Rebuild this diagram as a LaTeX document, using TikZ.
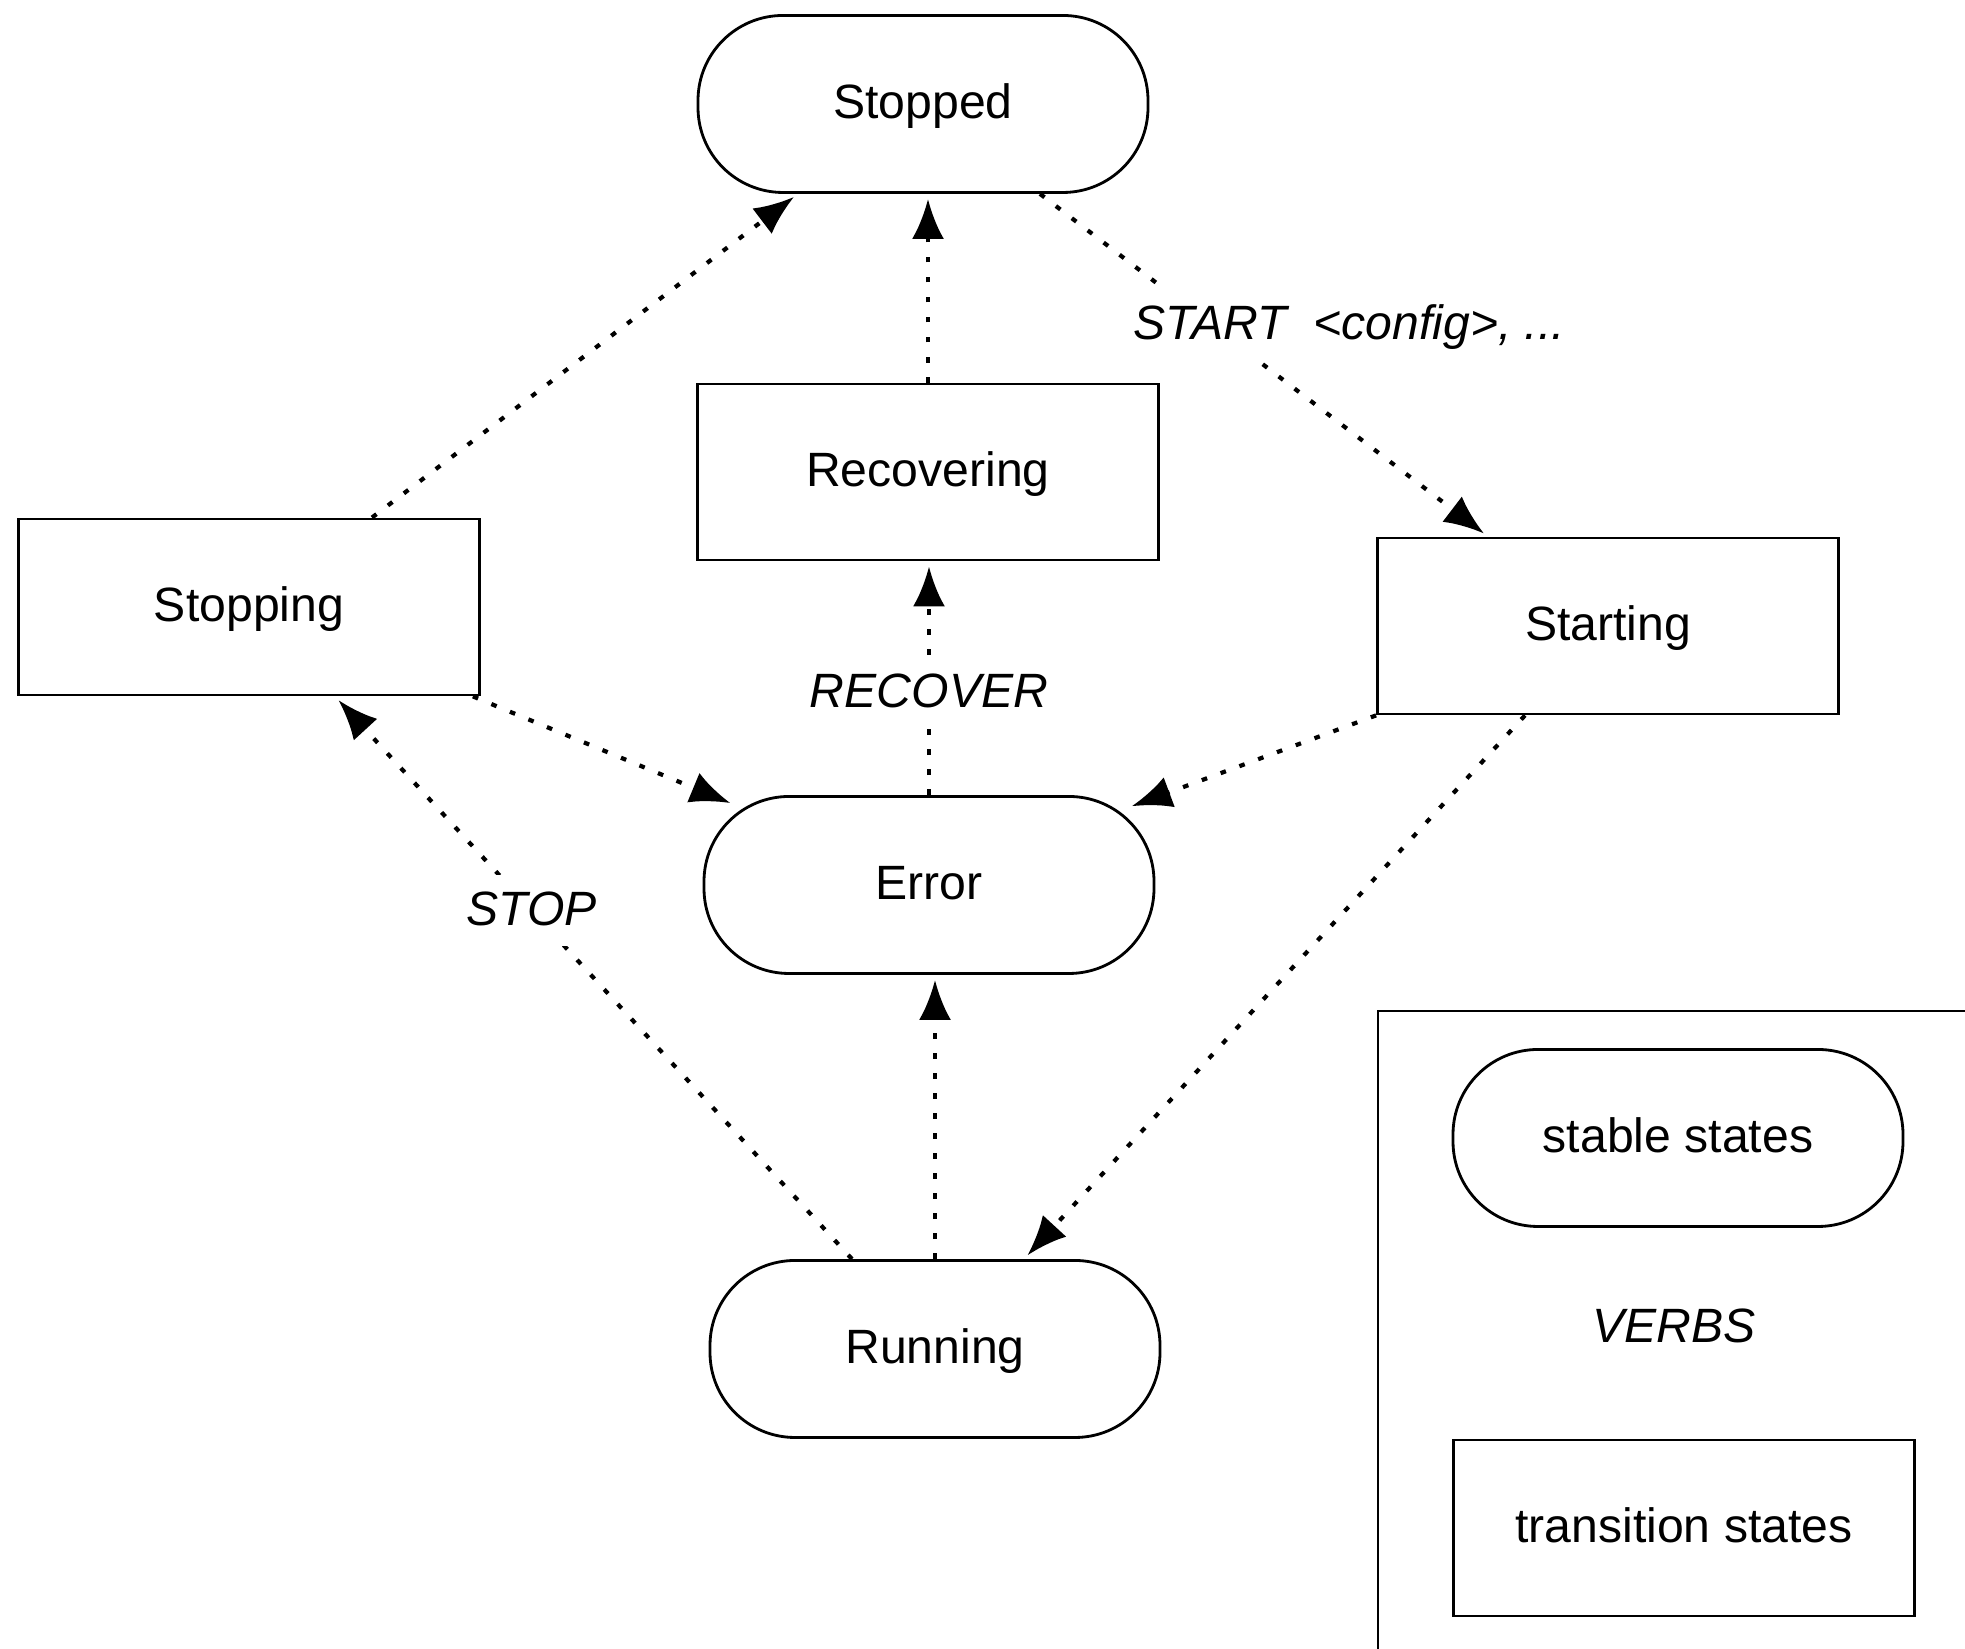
\documentclass[tikz,border=0pt]{standalone}
\usepackage{fontspec}
\setmainfont{Liberation Sans}
\usetikzlibrary{arrows.meta}

\begin{document}
\begin{tikzpicture}[>={Latex[length=4mm,width=3.2mm]},
    every node/.style={font=\fontsize{13.7}{16}\selectfont, text height=11pt, text depth=2.5pt},
    stable/.style={draw, line width=.8pt, rounded corners=8.5mm,
      minimum width=4.5cm, minimum height=1.77cm},
    transit/.style={draw, line width=.8pt, minimum width=4.61cm, minimum height=1.76cm},
    flow/.style={->, line width=1.2pt, dash pattern=on 1.6pt off 4.1pt, shorten >=.5mm},
    verb/.style={fill=white, font=\fontsize{13.7}{16}\selectfont\itshape}]
  \useasboundingbox (0,0) rectangle (19.65,16.49);
  % states
  \node[stable]  (stopped)    at (9.23,15.45) {Stopped};
  \node[transit] (recovering) at (9.28,11.77) {Recovering};
  \node[transit] (stopping)   at (2.49,10.42) {Stopping};
  \node[transit] (starting)   at (16.08,10.23) {Starting};
  \node[stable]  (error)      at (9.29,7.64) {Error};
  \node[stable]  (running)    at (9.35,3.00) {Running};

  % transitions
  \draw[flow] ([xshift=1.23cm]stopping.north) -- ([xshift=-1.25cm]stopped.south);
  \draw[flow] (recovering.north) -- (recovering.north |- stopped.south);
  \draw[flow] ([xshift=1.17cm]stopped.south) -- ([xshift=-1.2cm]starting.north)
    node[verb, pos=.38, xshift=1.39cm] (start) {START\ \ <config>, ...};
  \draw[flow] (error.north) -- (error.north |- recovering.south)
    node[verb, pos=.44] (recover) {RECOVER};
  \draw[flow] ([xshift=-.08cm]stopping.south east) -- ([shift={(-1.94,.8)}]error.center);
  \draw[flow] (starting.south west) -- ([shift={(1.98,.77)}]error.center);
  \draw[flow] ([xshift=-.83cm]running.north) -- ([xshift=.86cm]stopping.south)
    node[verb, pos=.62] (stop) {STOP};
  \draw[flow] (running.north) -- (running.north |- error.south);
  \draw[flow] ([xshift=-.83cm]starting.south) -- ([xshift=.89cm]running.north);

  % legend
  \draw[line width=.8pt] (19.65,6.38) -- (13.78,6.38) -- (13.78,0);
  \node[stable]  (stablekey)  at (16.78,5.11) {stable states};
  \node[verb, fill=none] (verbkey) at (16.74,3.21) {VERBS};
  \node[transit] (transitkey) at (16.84,1.21) {transition states};
\end{tikzpicture}
\end{document}
